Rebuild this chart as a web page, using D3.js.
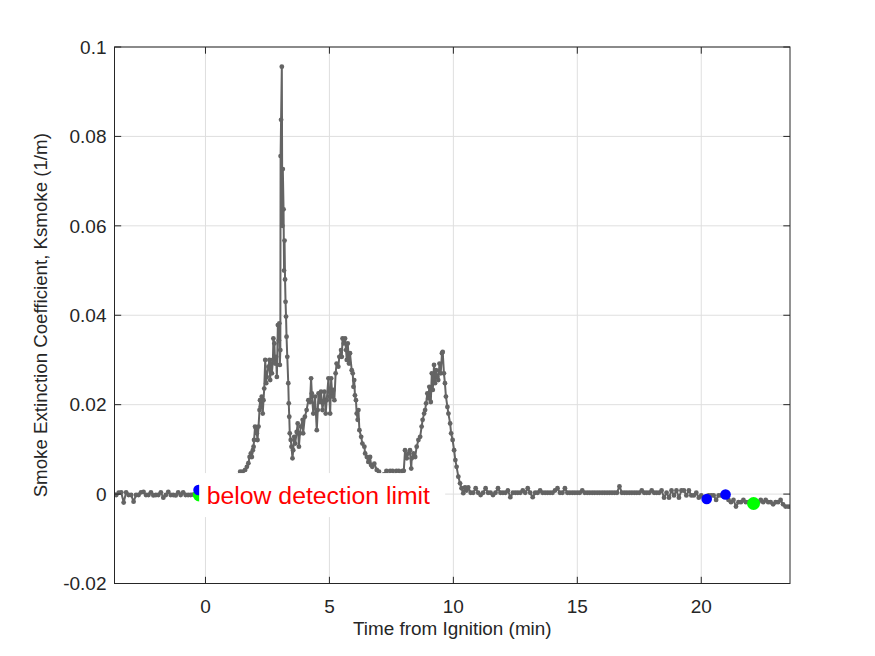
<!DOCTYPE html>
<html><head><meta charset="utf-8">
<script src="https://cdn.jsdelivr.net/npm/d3@7/dist/d3.min.js"></script>
<style>
body{margin:0;background:#fff}
svg{display:block}
text{font-family:"Liberation Sans",Arial,Helvetica,sans-serif}
</style>
</head><body>
<svg id="chart" width="875" height="656"></svg>
<script>
// ---------------- data (time in min, Ksmoke in 1/m) ----------------
const xTicks = [0, 5, 10, 15, 20];
const yTicks = [-0.02, 0, 0.02, 0.04, 0.06, 0.08, 0.1];
const yTickLabels = ["-0.02", "0", "0.02", "0.04", "0.06", "0.08", "0.1"];
const xLabel = "Time from Ignition (min)";
const yLabel = "Smoke Extinction Coefficient, Ksmoke (1/m)";
const noteText = "below detection limit";

const baselineBefore = [
[-3.7,0],[-3.6,-0.0002],[-3.5,0.0003],[-3.4,0.0004],[-3.3,-0.0019],[-3.2,0.0004],[-3.1,-0.0002],
[-3.0,-0.0002],[-2.9,-0.0017],[-2.8,-0.0002],[-2.7,-0.0002],[-2.6,0.0004],[-2.5,0.0005],[-2.4,-0.0002],
[-2.3,-0.0002],[-2.2,0.0004],[-2.1,-0.0003],[-2.0,-0.0002],[-1.9,-0.0002],[-1.8,0.0004],[-1.7,-0.0008],
[-1.6,-0.0002],[-1.5,0.0005],[-1.4,-0.0002],[-1.3,-0.0002],[-1.2,-0.0003],[-1.1,0.0004],[-1.0,-0.0002],
[-0.9,0.0004],[-0.8,-0.0002],[-0.7,-0.0002],[-0.6,-0.0002],[-0.5,-0.0001],[-0.4,-0.0002],[-0.3,0.0]
];
const hiddenStart = [
[-0.2,0],[0.0,0.0004],[0.2,0],[0.4,0.0005],[0.6,0.001],[0.8,0.0013],[1.0,0.002],[1.2,0.003],[1.3,0.0042]
];
const firstRise = [
[1.40,0.0050],[1.50,0.0050],[1.60,0.0054],[1.67,0.0061],[1.73,0.0069],[1.78,0.0083],[1.83,0.0091],
[1.87,0.0083],[1.91,0.0098],[1.94,0.0106],[1.96,0.0121],[2.00,0.0151],[2.04,0.0147],[2.07,0.0136],
[2.10,0.0121],[2.14,0.0151],[2.18,0.0188],[2.20,0.0210],[2.23,0.0195],[2.27,0.0218],[2.31,0.0180],
[2.34,0.0210],[2.37,0.0236],[2.41,0.0300],[2.45,0.0248],[2.47,0.0262],[2.54,0.0285],[2.58,0.0300],
[2.61,0.0255],[2.64,0.0292],[2.68,0.0270],[2.72,0.0300],[2.74,0.0348],[2.78,0.0337],[2.81,0.0292],
[2.85,0.0307],[2.88,0.0262],[2.92,0.0378],[2.96,0.0344],[2.98,0.0382],[3.00,0.0289],[3.02,0.0322]
];
const spike = [
[3.03,0.0756],[3.05,0.0837],[3.08,0.0956],[3.10,0.0600],[3.12,0.0727],[3.15,0.0637],[3.17,0.0500],
[3.19,0.0567],[3.21,0.0480],[3.23,0.0430],[3.25,0.0397],[3.27,0.0352],[3.30,0.0307],[3.34,0.0248],
[3.36,0.0203],[3.38,0.0173],[3.40,0.0136],[3.44,0.0121],[3.47,0.0106],[3.51,0.0080]
];
const secondPeak = [
[3.54,0.0098],[3.58,0.0128],[3.62,0.0113],[3.68,0.0139],[3.72,0.0158],[3.77,0.0106],[3.81,0.0136],
[3.85,0.0151],[3.92,0.0166],[3.94,0.0136],[4.01,0.0173],[4.08,0.0188],[4.15,0.0210],[4.22,0.0206],
[4.26,0.0259],[4.29,0.0225],[4.35,0.0180],[4.42,0.0218],[4.49,0.0143],[4.53,0.0188],[4.56,0.0225],
[4.62,0.0206],[4.66,0.0229],[4.72,0.0188],[4.80,0.0229],[4.85,0.0180],[4.89,0.0210],[4.96,0.0259],
[5.00,0.0218],[5.03,0.0180],[5.07,0.0259],[5.12,0.0218],[5.16,0.0233],[5.20,0.0210],[5.25,0.0270],
[5.29,0.0292],[5.36,0.0285],[5.40,0.0307],[5.47,0.0322],[5.50,0.0307],[5.53,0.0348],[5.58,0.0337],
[5.63,0.0348],[5.67,0.0322],[5.70,0.0300],[5.74,0.0337],[5.79,0.0292],[5.83,0.0315],[5.90,0.0277],
[5.94,0.0270],[5.97,0.0240],[6.00,0.0255],[6.03,0.0221],[6.07,0.0210],[6.10,0.0180],[6.14,0.0166],
[6.17,0.0188],[6.21,0.0143],[6.28,0.0128],[6.33,0.0113],[6.41,0.0106],[6.44,0.0091],[6.51,0.0083],
[6.57,0.0072],[6.64,0.0083],[6.68,0.0065],[6.73,0.0061],[6.81,0.0068],[6.91,0.0054],[7.00,0.0050],
[7.10,0.0040],[7.20,0.0044]
];
const thirdPeak = [
[7.30,0.0052],[7.38,0.0040],[7.45,0.0052],[7.55,0.0052],[7.62,0.0040],[7.70,0.0052],[7.80,0.0052],
[7.88,0.0042],[7.95,0.0052],[8.00,0.0052],[8.05,0.0098],[8.12,0.0080],[8.18,0.0091],[8.25,0.0098],
[8.30,0.0057],[8.32,0.0080],[8.39,0.0091],[8.46,0.0083],[8.52,0.0106],[8.59,0.0121],[8.66,0.0128],
[8.72,0.0151],[8.76,0.0166],[8.82,0.0180],[8.86,0.0188],[8.90,0.0203],[8.95,0.0225],[8.99,0.0214],
[9.03,0.0240],[9.09,0.0206],[9.13,0.0270],[9.17,0.0233],[9.22,0.0289],[9.26,0.0248],[9.30,0.0277],
[9.35,0.0262],[9.39,0.0255],[9.44,0.0292],[9.49,0.0270],[9.54,0.0315],[9.57,0.0318],[9.62,0.0270],
[9.66,0.0248],[9.70,0.0218],[9.76,0.0195],[9.80,0.0180],[9.87,0.0158],[9.91,0.0136],[9.97,0.0121],
[10.03,0.0098],[10.08,0.0076],[10.13,0.0061],[10.20,0.0039],[10.27,0.0024],[10.33,0.0013],
[10.40,0.0002],[10.47,0.0015],[10.53,0.0008],[10.60,0.0015]
];
const baselineAfter = [
[10.7,0.0003],[10.8,0.0003],[10.9,0.0013],[11.0,0.0003],[11.1,-0.0002],[11.2,0.0003],[11.3,0.0013],
[11.4,0.0003],[11.5,0.0003],[11.6,-0.0002],[11.7,0.0003],[11.8,0.0013],[11.9,0.0003],[12.0,0.0003],
[12.1,0.0003],[12.2,0.0008],[12.3,-0.0007],[12.4,0.0003],[12.5,0.0003],[12.6,0.0003],[12.7,0.0003],
[12.8,0.0008],[12.9,0.0003],[13.0,0.0013],[13.1,0.0003],[13.2,-0.0007],[13.3,0.0003],[13.4,0.0003],
[13.5,0.0008],[13.6,0.0003],[13.7,0.0003],[13.8,0.0003],[13.9,0.0003],[14.0,0.0003],[14.1,0.0008],
[14.2,0.0013],[14.3,0.0003],[14.4,0.0003],[14.5,0.0013],[14.6,0.0003],[14.7,0.0003],[14.8,0.0003],
[14.9,0.0003],[15.0,0.0003],[15.1,0.0003],[15.2,0.0008],[15.3,0.0003],[15.4,0.0003],[15.5,0.0003],
[15.6,0.0003],[15.7,0.0003],[15.8,0.0003],[15.9,0.0003],[16.0,0.0003],[16.1,0.0003],[16.2,0.0003],
[16.3,0.0003],[16.4,0.0003],[16.5,0.0003],[16.6,0.0003],[16.7,0.0017],[16.8,0.0003],[16.9,0.0003],
[17.0,0.0003],[17.1,0.0003],[17.2,0.0003],[17.3,0.0003],[17.4,0.0003],[17.5,0.0003],[17.6,0.0008],
[17.7,0.0003],[17.8,0.0003],[17.9,0.0003],[18.0,0.0008],[18.1,0.0003],[18.2,0.0003],[18.3,0.0003],
[18.4,0.0008],[18.5,-0.0008],[18.6,0.0003],[18.7,-0.0008],[18.8,0.0008],[18.9,-0.0003],[19.0,0.0008],
[19.1,-0.0008],[19.2,0.0008],[19.3,0.0008],[19.4,-0.0003],[19.5,0.0008],[19.6,-0.0003],[19.7,-0.0003],
[19.8,0.0003],[19.9,-0.0008],[20.0,-0.0003],[20.1,-0.0008],[20.2,-0.0008],[20.3,-0.0003],[20.4,-0.0003],
[20.5,-0.0003],[20.6,-0.0013],[20.7,-0.0003],[20.8,-0.0003],[20.9,-0.0003],[21.0,-0.0003],[21.1,-0.0013],
[21.2,-0.0018],[21.3,-0.0013],[21.4,-0.0028],[21.5,-0.0018],[21.6,-0.0018],[21.7,-0.0013],[21.8,-0.0018],
[21.9,-0.0018],[22.0,-0.0018],[22.1,-0.0018],[22.2,-0.0018],[22.3,-0.0018],[22.4,-0.0013],[22.5,-0.0018],
[22.6,-0.0013],[22.7,-0.0018],[22.8,-0.0018],[22.9,-0.0023],[23.0,-0.0018],[23.1,-0.0018],[23.2,-0.0013],
[23.3,-0.0023],[23.4,-0.0028],[23.5,-0.0028],[23.6,-0.0028],[23.7,-0.0028]
];
const greenMarkers = [[-0.25,-0.0002],[22.11,-0.0021]];
const blueMarkers = [[-0.28,0.0009],[20.22,-0.0011],[20.98,-0.0001]];

// ---------------- chart ----------------
const series = [].concat(baselineBefore, hiddenStart, firstRise, spike, secondPeak, thirdPeak, baselineAfter);
const L = 114.5, R = 790, T = 47, B = 583.5;
const x = d3.scaleLinear().domain([-3.67, 23.58]).range([L, R]);
const y = d3.scaleLinear().domain([-0.02, 0.1]).range([B, T]);
const axisColor = "#262626";
const svg = d3.select("#chart");

svg.append("defs").append("clipPath").attr("id","clip")
  .append("rect").attr("x",L).attr("y",T).attr("width",R-L).attr("height",B-T);

// grid
const grid = svg.append("g").attr("stroke","#dfdfdf").attr("stroke-width",1);
xTicks.forEach(t => grid.append("line").attr("x1",x(t)).attr("x2",x(t)).attr("y1",T).attr("y2",B));
yTicks.forEach(t => grid.append("line").attr("x1",L).attr("x2",R).attr("y1",y(t)).attr("y2",y(t)));

// data
const grey = "#646464";
const plot = svg.append("g").attr("clip-path","url(#clip)");
const lineGen = d3.line().x(d => x(d[0])).y(d => y(d[1]));
plot.append("path").datum(series).attr("d",lineGen)
  .attr("fill","none").attr("stroke",grey).attr("stroke-width",2).attr("stroke-linejoin","round");
plot.selectAll("circle.pt").data(series).join("circle").attr("class","pt")
  .attr("cx",d => x(d[0])).attr("cy",d => y(d[1])).attr("r",2.4).attr("fill",grey);
plot.selectAll("circle.g").data(greenMarkers).join("circle").attr("class","g")
  .attr("cx",d => x(d[0])).attr("cy",d => y(d[1])).attr("r",6.5).attr("fill","#00ff00");
plot.selectAll("circle.b").data(blueMarkers).join("circle").attr("class","b")
  .attr("cx",d => x(d[0])).attr("cy",d => y(d[1])).attr("r",5.3).attr("fill","#0000ff");

// annotation with white background
const note = svg.append("g");
note.append("rect").attr("fill","#ffffff")
  .attr("x", x(0) - 6.3).attr("y", y(0) - 21).attr("width", 246).attr("height", 44);
note.append("text").attr("x", x(0) + 1.2).attr("y", y(0) + 10)
  .attr("fill","#ff0000").attr("font-size","24.8px").text(noteText);

// axes box
const ax = svg.append("g").attr("stroke",axisColor).attr("stroke-width",1).attr("fill","none");
ax.append("rect").attr("x",L).attr("y",T).attr("width",R-L).attr("height",B-T);
const tl = 6.7;
xTicks.forEach(t => {
  ax.append("line").attr("x1",x(t)).attr("x2",x(t)).attr("y1",B).attr("y2",B-tl);
  ax.append("line").attr("x1",x(t)).attr("x2",x(t)).attr("y1",T).attr("y2",T+tl);
});
yTicks.forEach(t => {
  ax.append("line").attr("x1",L).attr("x2",L+tl).attr("y1",y(t)).attr("y2",y(t));
  ax.append("line").attr("x1",R).attr("x2",R-tl).attr("y1",y(t)).attr("y2",y(t));
});

// tick labels
const tickFont = "19px";
svg.append("g").selectAll("text").data(xTicks).join("text")
  .attr("x",d => x(d)).attr("y",612.5).attr("text-anchor","middle")
  .attr("font-size",tickFont).attr("fill",axisColor).text(d => d);
svg.append("g").selectAll("text").data(yTicks).join("text")
  .attr("x",L - 8).attr("y",d => y(d) + 6.8).attr("text-anchor","end")
  .attr("font-size",tickFont).attr("fill",axisColor).text((d,i) => yTickLabels[i]);

// axis labels
svg.append("text").attr("x",(L+R)/2).attr("y",635).attr("text-anchor","middle")
  .attr("font-size","18.9px").attr("fill",axisColor).text(xLabel);
svg.append("text").attr("transform",`translate(46.5,${(T+B)/2}) rotate(-90)`)
  .attr("text-anchor","middle").attr("font-size","18.7px").attr("fill",axisColor).text(yLabel);
</script>
</body></html>
